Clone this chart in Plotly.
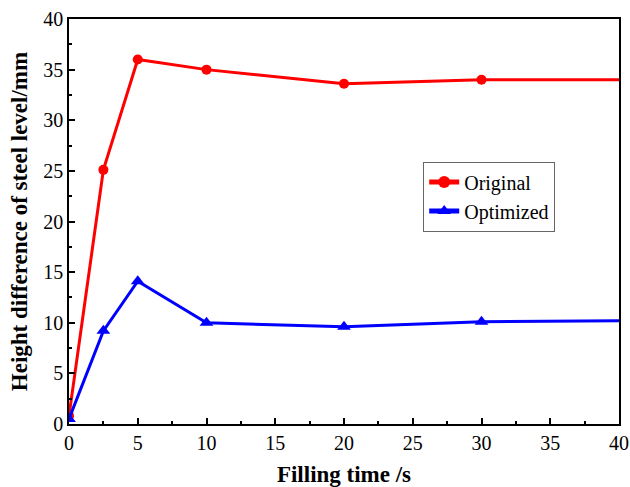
import plotly.graph_objects as go

time_s = [0, 2.5, 5, 10, 20, 30, 40]
original = [0.8, 25.1, 36.0, 35.0, 33.6, 34.0, 34.0]
optimized = [0.5, 9.2, 14.1, 10.0, 9.6, 10.1, 10.2]

font_family = "Liberation Serif, Times New Roman, serif"

# the line runs on to the right edge, but the last point carries no marker
def marker_sizes(n, size):
    return [size] * (n - 1) + [0]

fig = go.Figure()
fig.add_trace(go.Scatter(
    x=time_s, y=original, name="Original", mode="lines+markers",
    line=dict(color="#ff0000", width=3),
    marker=dict(symbol="circle", size=marker_sizes(len(time_s), 10), color="#ff0000",
                opacity=1, line=dict(width=0)),
))
fig.add_trace(go.Scatter(
    x=time_s, y=optimized, name="Optimized", mode="lines+markers",
    line=dict(color="#0000ff", width=3),
    marker=dict(symbol="triangle-up", size=marker_sizes(len(time_s), 12), color="#0000ff",
                opacity=1, line=dict(width=0)),
))

axis_common = dict(
    showline=True, linecolor="black", linewidth=1.5, mirror=True,
    ticks="inside", ticklen=6, tickwidth=1.5, tickcolor="black",
    showgrid=False, zeroline=False, automargin=False,
    tickfont=dict(family=font_family, size=20, color="black"),
    minor=dict(ticks="inside", ticklen=3, tickwidth=1.5, tickcolor="black", showgrid=False),
)

fig.update_xaxes(
    range=[0, 40], dtick=5, minor_dtick=2.5,
    title=dict(text="<b>Filling time /s</b>", font=dict(family=font_family, size=23, color="black"), standoff=19),
    **axis_common,
)
fig.update_yaxes(
    range=[0, 40], dtick=5, minor_dtick=2.5,
    title=dict(text="<b>Height difference of steel level/mm</b>", font=dict(family=font_family, size=23, color="black"), standoff=9),
    **axis_common,
)

fig.update_layout(
    width=630, height=487,
    margin=dict(l=69, r=11, t=19, b=63),
    plot_bgcolor="white", paper_bgcolor="white",
    font=dict(family=font_family, color="black"),
    legend=dict(
        x=0.644, y=0.648, xanchor="left", yanchor="top",
        bgcolor="white", bordercolor="#666666", borderwidth=1,
        font=dict(family=font_family, size=20, color="black"),
        tracegroupgap=0, itemsizing="constant",
    ),
)

fig.write_html("out.html")
